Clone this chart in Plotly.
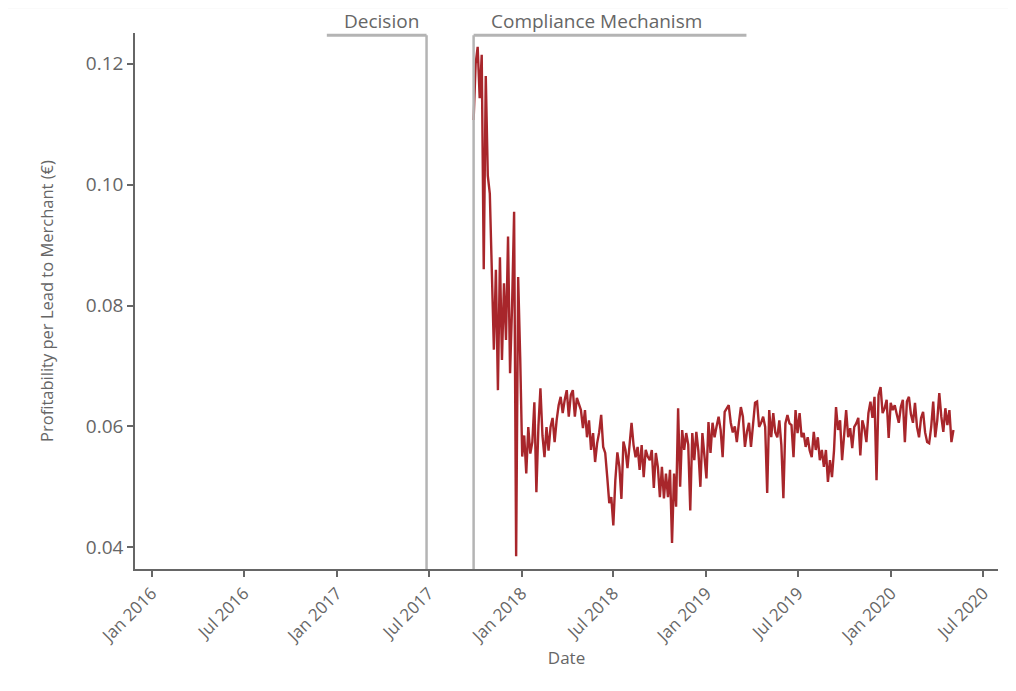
import pandas as pd
import plotly.graph_objects as go

# ---- data ----
start_date = "2017-09-28"
step_days = 4
profit_per_lead = [
    0.1107, 0.1200, 0.1228, 0.1143, 0.1215, 0.0860, 0.1180, 0.1015, 0.0985, 0.0850,
    0.0727, 0.0859, 0.0660, 0.0880, 0.0710, 0.0837, 0.0743, 0.0914, 0.0688, 0.0800,
    0.0955, 0.0385, 0.0847, 0.0715, 0.0550, 0.0585, 0.0522, 0.0599, 0.0555, 0.0574,
    0.0640, 0.0491, 0.0600, 0.0663, 0.0585, 0.0549, 0.0599, 0.0560, 0.0599, 0.0614,
    0.0574, 0.0610, 0.0635, 0.0649, 0.0622, 0.0644, 0.0660, 0.0616, 0.0652, 0.0660,
    0.0616, 0.0647, 0.0635, 0.0627, 0.0597, 0.0627, 0.0582, 0.0610, 0.0561, 0.0589,
    0.0541, 0.0572, 0.0590, 0.0619, 0.0566, 0.0556, 0.0516, 0.0473, 0.0483, 0.0436,
    0.0511, 0.0557, 0.0533, 0.0480, 0.0575, 0.0561, 0.0531, 0.0575, 0.0606, 0.0569,
    0.0549, 0.0566, 0.0528, 0.0569, 0.0516, 0.0561, 0.0550, 0.0544, 0.0561, 0.0498,
    0.0556, 0.0533, 0.0483, 0.0533, 0.0481, 0.0522, 0.0483, 0.0528, 0.0407, 0.0522,
    0.0467, 0.0630, 0.0500, 0.0594, 0.0561, 0.0589, 0.0570, 0.0461, 0.0589, 0.0544,
    0.0591, 0.0560, 0.0500, 0.0589, 0.0549, 0.0514, 0.0607, 0.0556, 0.0606, 0.0582,
    0.0600, 0.0616, 0.0594, 0.0549, 0.0624, 0.0630, 0.0635, 0.0606, 0.0590, 0.0600,
    0.0574, 0.0605, 0.0632, 0.0616, 0.0566, 0.0591, 0.0606, 0.0566, 0.0610, 0.0639,
    0.0641, 0.0599, 0.0606, 0.0616, 0.0599, 0.0490, 0.0627, 0.0582, 0.0622, 0.0590,
    0.0582, 0.0610, 0.0569, 0.0481, 0.0605, 0.0619, 0.0605, 0.0602, 0.0549, 0.0627,
    0.0589, 0.0622, 0.0582, 0.0589, 0.0566, 0.0582, 0.0560, 0.0549, 0.0591, 0.0561,
    0.0582, 0.0544, 0.0561, 0.0533, 0.0561, 0.0508, 0.0544, 0.0516, 0.0560, 0.0632,
    0.0594, 0.0610, 0.0544, 0.0589, 0.0627, 0.0582, 0.0597, 0.0564, 0.0599, 0.0605,
    0.0614, 0.0552, 0.0610, 0.0597, 0.0574, 0.0622, 0.0641, 0.0614, 0.0649, 0.0511,
    0.0652, 0.0665, 0.0622, 0.0630, 0.0644, 0.0581, 0.0639, 0.0627, 0.0635, 0.0620,
    0.0606, 0.0632, 0.0644, 0.0574, 0.0641, 0.0649, 0.0620, 0.0606, 0.0639, 0.0599,
    0.0582, 0.0614, 0.0624, 0.0590, 0.0574, 0.0572, 0.0599, 0.0641, 0.0582, 0.0610,
    0.0655, 0.0616, 0.0591, 0.0630, 0.0602, 0.0627, 0.0574, 0.0594,
]
dates = pd.date_range(start_date, periods=len(profit_per_lead), freq=f"{step_days}D")

event_labels = ["Decision", "Compliance Mechanism"]
event_dates = ["2017-06-27", "2017-09-28"]
bar_starts = ["2016-12-12", "2017-09-28"]
bar_ends = ["2017-06-27", "2019-03-21"]
label_dates = ["2017-03-30", "2018-05-29"]

y_ticks = [0.04, 0.06, 0.08, 0.10, 0.12]
x_range = ["2015-11-29", "2020-07-30"]
y_range = [0.0364, 0.1251]

FONT = "Open Sans"
GRAY_TXT = "#666666"
MARK = "#b4b4b4"

fig = go.Figure()
fig.add_trace(go.Scatter(
    x=dates, y=profit_per_lead, mode="lines",
    line=dict(color="#a8262b", width=2.4),
    showlegend=False,
))

shapes = []
annotations = []
for lab, d, b0, b1, ld in zip(event_labels, event_dates, bar_starts, bar_ends, label_dates):
    shapes.append(dict(type="line", xref="x", yref="paper", x0=d, x1=d, y0=0, y1=0.996,
                       line=dict(color=MARK, width=2.5)))
    shapes.append(dict(type="line", xref="x", yref="paper", x0=b0, x1=b1, y0=0.996, y1=0.996,
                       line=dict(color=MARK, width=3)))
    annotations.append(dict(x=ld, y=1.0224, xref="x", yref="paper", text=lab, showarrow=False,
                            yanchor="middle",
                            font=dict(family=FONT, size=19, color=GRAY_TXT)))

# faint page rule at the very top
shapes.append(dict(type="line", xref="paper", yref="paper", x0=-0.16, x1=1.03, y0=1.047, y1=1.047,
                   line=dict(color="#eeeeee", width=1)))

fig.update_layout(
    width=1008, height=683,
    margin=dict(l=127, r=18, t=25, b=122),
    plot_bgcolor="white", paper_bgcolor="white",
    font=dict(family=FONT, color=GRAY_TXT),
    shapes=shapes, annotations=annotations,
)
fig.update_xaxes(
    range=x_range, type="date", automargin=False,
    tick0="2016-01-01", dtick="M6", tickformat="%b %Y", tickangle=-45,
    ticks="outside", ticklen=6, tickcolor="#666666", tickwidth=1.5,
    showline=True, linecolor="#666666", linewidth=1.5, showgrid=False, zeroline=False,
    tickfont=dict(family=FONT, size=17, color=GRAY_TXT),
    title=dict(text="Date", font=dict(family=FONT, size=17, color=GRAY_TXT), standoff=6),
)
fig.update_yaxes(
    range=y_range, tickvals=y_ticks, tickformat=".2f", automargin=False,
    ticks="outside", ticklen=6, tickcolor="#666666", tickwidth=1.5,
    showline=True, linecolor="#666666", linewidth=1.5, showgrid=False, zeroline=False,
    tickfont=dict(family=FONT, size=19, color=GRAY_TXT),
    title=dict(text="Profitability per Lead to Merchant (€)",
               font=dict(family=FONT, size=16.5, color=GRAY_TXT), standoff=28),
)

fig.write_html("out.html")
